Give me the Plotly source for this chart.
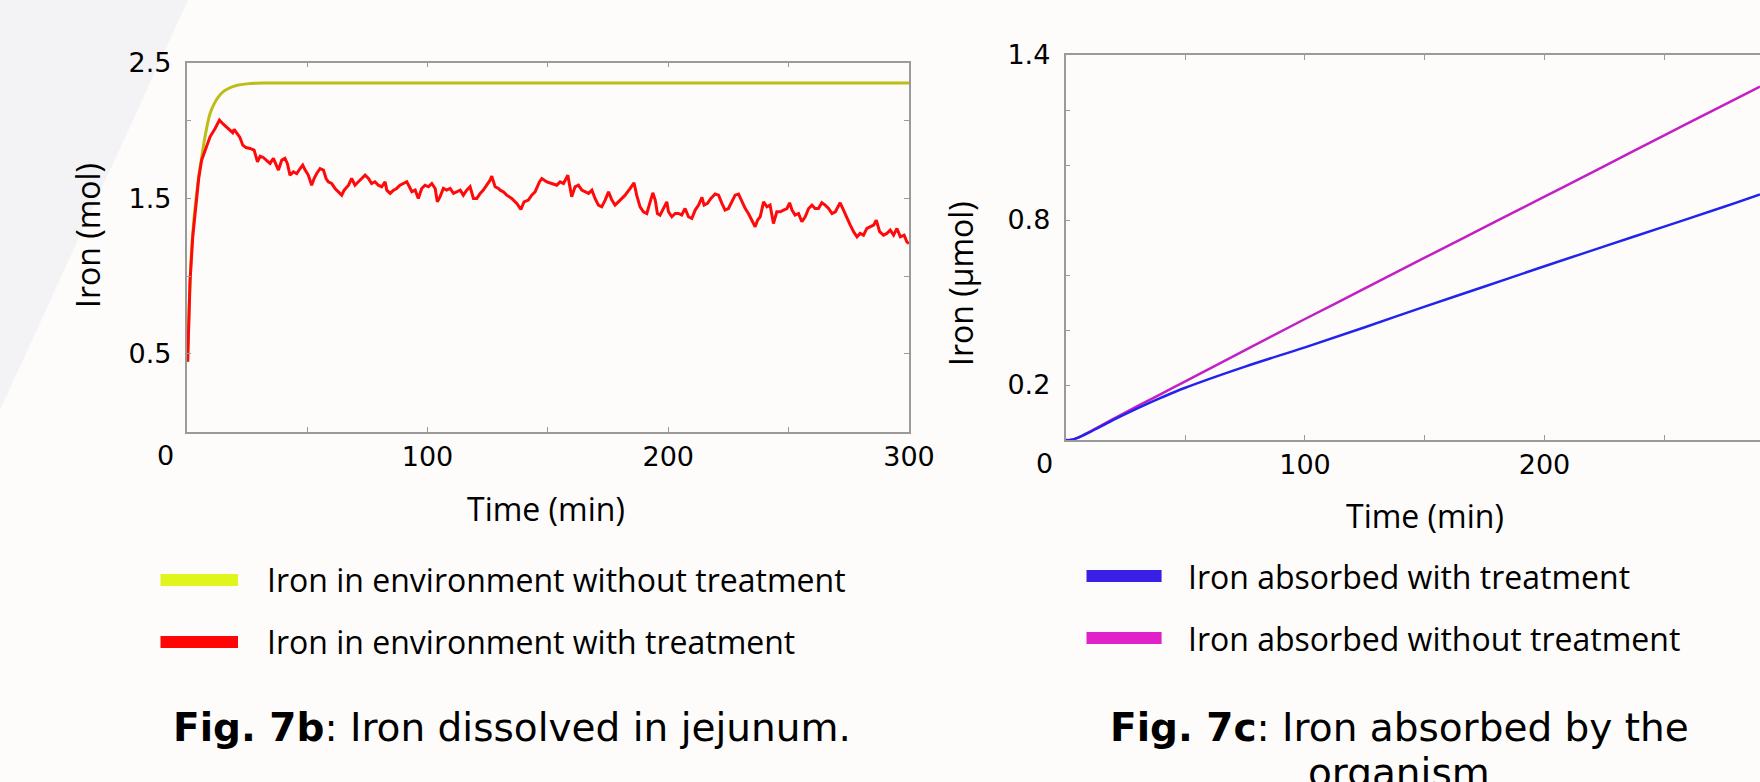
import plotly.graph_objects as go

# ---------------- data ----------------
# Fig. 7b : iron dissolved in jejunum
green_t = [0.4, 1.4, 2.5, 3.9, 5.0, 6.2, 7.6, 9.7, 11.5, 13.1, 15.2, 18.0, 21.0, 24.9, 29.0, 33.0,
           50, 100, 150, 200, 250, 300]
green_v = [0.45, 0.97, 1.27, 1.50, 1.64, 1.76, 1.895, 2.045, 2.11, 2.15, 2.185, 2.21, 2.226, 2.235, 2.239, 2.24,
           2.24, 2.24, 2.24, 2.24, 2.24, 2.24]

red_t = [0.4, 1.4, 2.5, 3.9, 5.0, 6.2, 8.0, 9.7, 11.8, 13.6, 15.2, 16.6, 18.0, 19.1, 19.7, 20.8, 22.1, 23.3,
         24.6, 26.3, 28.0, 29.4, 30.5, 31.8, 33.0, 34.6, 36.0, 37.1, 38.1, 39.5, 40.8, 41.8, 42.9, 44.3, 45.7,
         47.1, 48.2, 49.2, 50.5, 51.9, 52.9, 54.0, 55.4, 56.8, 57.9, 58.8, 60.2, 61.6, 63.0, 64.4, 65.4, 67.2,
         68.5, 69.9, 71.3, 72.7, 74.1, 75.5, 76.8, 78.2, 79.6, 81.0, 82.4, 83.1, 84.5, 85.9, 87.2, 88.6, 90.0,
         91.4, 92.5, 93.5, 94.9, 96.2, 97.6, 99.0, 100.4, 101.8, 103.2, 104.1, 105.2, 106.6, 108.0, 109.4,
         110.8, 112.2, 113.6, 114.9, 116.3, 117.7, 119.1, 120.5, 121.9, 123.2, 124.6, 126.0, 126.7, 128.1,
         129.5, 130.2, 131.6, 132.9, 135.0, 137.1, 138.8, 140.1, 141.9, 143.3, 144.7, 146.5, 147.5, 149.6,
         151.6, 153.7, 155.1, 156.5, 158.3, 159.2, 159.9, 161.3, 162.7, 164.1, 165.5, 166.9, 168.3, 169.6,
         171.0, 172.4, 173.8, 175.2, 176.6, 177.9, 179.3, 180.7, 182.1, 184.2, 185.8, 186.9, 188.3, 189.7,
         191.1, 192.5, 193.6, 194.6, 195.5, 196.6, 198.0, 199.4, 200.1, 201.5, 202.9, 204.3, 205.6, 207.0,
         208.4, 209.8, 211.2, 212.6, 214.0, 214.9, 216.3, 217.7, 219.5, 220.9, 222.3, 223.6, 225.0, 226.4,
         227.8, 229.2, 230.6, 232.0, 233.3, 234.7, 236.1, 237.1, 238.2, 239.6, 241.0, 242.3, 243.7, 245.1,
         246.5, 247.9, 249.3, 250.4, 251.4, 252.7, 254.1, 255.5, 256.9, 258.3, 259.7, 261.0, 262.4, 263.8,
         265.2, 266.6, 268.0, 269.4, 270.7, 271.4, 272.8, 274.2, 275.6, 277.0, 278.4, 279.7, 281.1, 282.5,
         283.9, 285.3, 286.4, 287.8, 289.4, 290.8, 292.2, 293.6, 295.0, 296.4, 298.0, 299.1, 300.0]
red_v = [0.45, 0.97, 1.25, 1.49, 1.63, 1.745, 1.83, 1.895, 1.948, 2.002, 1.976, 1.955, 1.938, 1.921, 1.942,
         1.917, 1.891, 1.841, 1.826, 1.820, 1.809, 1.734, 1.770, 1.762, 1.745, 1.724, 1.756, 1.713, 1.681,
         1.745, 1.756, 1.724, 1.649, 1.670, 1.659, 1.691, 1.713, 1.681, 1.649, 1.584, 1.627, 1.659, 1.691,
         1.681, 1.627, 1.606, 1.595, 1.563, 1.542, 1.520, 1.552, 1.584, 1.627, 1.584, 1.606, 1.627, 1.649,
         1.627, 1.595, 1.606, 1.584, 1.574, 1.606, 1.552, 1.531, 1.552, 1.563, 1.584, 1.595, 1.606, 1.574,
         1.542, 1.552, 1.499, 1.563, 1.584, 1.574, 1.595, 1.563, 1.477, 1.509, 1.563, 1.552, 1.563, 1.531,
         1.542, 1.552, 1.520, 1.552, 1.574, 1.499, 1.499, 1.531, 1.552, 1.584, 1.616, 1.642, 1.574, 1.563,
         1.552, 1.541, 1.520, 1.499, 1.467, 1.428, 1.477, 1.488, 1.520, 1.541, 1.605, 1.627, 1.605, 1.595,
         1.584, 1.605, 1.595, 1.648, 1.573, 1.509, 1.573, 1.584, 1.552, 1.541, 1.531, 1.552, 1.499, 1.456,
         1.445, 1.488, 1.541, 1.488, 1.456, 1.477, 1.499, 1.520, 1.563, 1.599, 1.520, 1.445, 1.413, 1.402,
         1.477, 1.535, 1.488, 1.402, 1.392, 1.434, 1.477, 1.413, 1.381, 1.402, 1.402, 1.392, 1.434, 1.381,
         1.370, 1.424, 1.456, 1.505, 1.456, 1.467, 1.499, 1.527, 1.520, 1.467, 1.424, 1.434, 1.477, 1.520,
         1.527, 1.477, 1.434, 1.402, 1.359, 1.317, 1.359, 1.381, 1.477, 1.445, 1.456, 1.338, 1.413, 1.413,
         1.424, 1.434, 1.471, 1.424, 1.392, 1.402, 1.349, 1.381, 1.434, 1.456, 1.434, 1.434, 1.471, 1.456,
         1.434, 1.402, 1.413, 1.456, 1.471, 1.424, 1.370, 1.327, 1.285, 1.252, 1.274, 1.263, 1.306, 1.317,
         1.327, 1.359, 1.285, 1.263, 1.274, 1.295, 1.263, 1.306, 1.252, 1.263, 1.220, 1.209]

# Fig. 7c : iron absorbed by the organism
abs_t = [0, 2, 5, 10, 15, 20, 30, 40, 50, 75, 100, 125, 150, 175, 200, 225, 250, 275, 290]
blue_v = [0, 0, 0.008, 0.028, 0.05, 0.073, 0.115, 0.154, 0.19, 0.267, 0.337, 0.41, 0.485, 0.558, 0.632,
          0.704, 0.776, 0.848, 0.893]
magenta_v = [0, 0, 0.008, 0.03, 0.053, 0.077, 0.123, 0.168, 0.213, 0.327, 0.44, 0.551, 0.663, 0.774, 0.885,
             0.996, 1.108, 1.219, 1.285]

x_ticks = [0, 50, 100, 150, 200, 250, 300]
x_ticktext = ["", "", "100", "", "200", "", "300"]
yb_top = 2.371
yb_ticks = [0.5, 1.0, 1.5, 2.0, 2.37]
yb_ticktext = ["0.5", "", "1.5", "", "2.5"]
yc_ticks = [0.2, 0.4, 0.6, 0.8, 1.0, 1.2, 1.4]
yc_ticktext = ["0.2", "", "", "0.8", "", "", "1.4"]

legend_b = ["Iron in environment without treatment", "Iron in environment with treatment"]
legend_c = ["Iron absorbed with treatment", "Iron absorbed without treatment"]

# ---------------- styling ----------------
W, H = 1760, 782
BG = "#fdfcfa"
AXC = "#9a9a9a"
TICKFONT = dict(family="DejaVu Sans", size=27, color="black")
LBLFONT = dict(family="Open Sans", size=32, color="black")
CAPFONT = dict(family="DejaVu Sans", size=39, color="black")

GREEN_LINE, RED_LINE = "#bcbd16", "#ff0a0a"
BLUE_LINE, MAG_LINE = "#2323ee", "#c21fc4"
GREEN_SW, RED_SW = "#dff51c", "#ff0505"
BLUE_SW, MAG_SW = "#3a1fe6", "#e020c8"


def px(x):
    return x / W


def py(y):
    return 1 - y / H


fig = go.Figure()
fig.add_trace(go.Scatter(x=green_t, y=green_v, mode="lines", line=dict(color=GREEN_LINE, width=3, shape="spline"),
                         name=legend_b[0], xaxis="x", yaxis="y", hoverinfo="skip"))
fig.add_trace(go.Scatter(x=red_t, y=red_v, mode="lines", line=dict(color=RED_LINE, width=3),
                         name=legend_b[1], xaxis="x", yaxis="y", hoverinfo="skip"))
fig.add_trace(go.Scatter(x=abs_t, y=magenta_v, mode="lines", line=dict(color=MAG_LINE, width=2.5, shape="spline"),
                         name=legend_c[1], xaxis="x2", yaxis="y2", hoverinfo="skip"))
fig.add_trace(go.Scatter(x=abs_t, y=blue_v, mode="lines", line=dict(color=BLUE_LINE, width=2.5, shape="spline"),
                         name=legend_c[0], xaxis="x2", yaxis="y2", hoverinfo="skip"))

common = dict(showgrid=False, zeroline=False, showline=True, linecolor=AXC, linewidth=1.5,
              ticks="inside", ticklen=5, tickwidth=1, tickcolor=AXC, tickfont=TICKFONT,
              automargin=False)

fig.update_layout(
    width=W, height=H, margin=dict(l=0, r=0, t=0, b=0, pad=0, autoexpand=False),
    paper_bgcolor=BG, plot_bgcolor=BG, showlegend=False,
    xaxis=dict(domain=[px(186.7), px(909)], range=[0, 300], tickvals=x_ticks, ticktext=x_ticktext,
               mirror="ticks", anchor="y", ticklabelstandoff=0, **common),
    yaxis=dict(domain=[py(431.7), py(62.7)], range=[0, yb_top], tickvals=yb_ticks, ticktext=yb_ticktext,
               mirror="ticks", anchor="x", ticklabelstandoff=8, **common),
    xaxis2=dict(domain=[px(1065.5), 1.0], range=[0, 290.0], tickvals=x_ticks, ticktext=x_ticktext,
                mirror="ticks", anchor="y2", ticklabelstandoff=0, **common),
    yaxis2=dict(domain=[py(440), py(55)], range=[0, 1.4], tickvals=yc_ticks, ticktext=yc_ticktext,
                mirror=False, anchor="x2", ticklabelstandoff=8, **common),
)

shapes = [
    dict(type="path", xref="paper", yref="paper", path=f"M 0,1 L {px(188)},1 L 0,{py(410)} Z",
         fillcolor="#f3f3f5", line=dict(width=0), layer="below"),
    dict(type="rect", xref="paper", yref="paper", x0=px(160.5), x1=px(238), y0=py(586), y1=py(574),
         fillcolor=GREEN_SW, line=dict(width=0)),
    dict(type="rect", xref="paper", yref="paper", x0=px(160.5), x1=px(238), y0=py(648), y1=py(636),
         fillcolor=RED_SW, line=dict(width=0)),
    dict(type="rect", xref="paper", yref="paper", x0=px(1086.5), x1=px(1161.6), y0=py(582), y1=py(570),
         fillcolor=BLUE_SW, line=dict(width=0)),
    dict(type="rect", xref="paper", yref="paper", x0=px(1086.5), x1=px(1161.6), y0=py(644), y1=py(632),
         fillcolor=MAG_SW, line=dict(width=0)),
]
fig.update_layout(shapes=shapes)


def ann(text, x, y, font, xanchor="center", yanchor="middle", angle=0):
    fig.add_annotation(text=text, x=px(x), y=py(y), xref="paper", yref="paper", showarrow=False,
                       xanchor=xanchor, yanchor=yanchor, font=font, textangle=angle)


# origin labels
ann("0", 165, 455, TICKFONT)
ann("0", 1044.6, 463, TICKFONT)
# axis titles
ann("Time (min)", 546, 508, LBLFONT)
ann("Time (min)", 1425, 515, LBLFONT)
ann("Iron (mol)", 88, 236, LBLFONT, angle=-90)
ann("Iron (μmol)", 960, 283, LBLFONT, angle=-90)
# legends
ann(legend_b[0], 265, 579, LBLFONT, xanchor="left")
ann(legend_b[1], 265, 641, LBLFONT, xanchor="left")
ann(legend_c[0], 1186, 576, LBLFONT, xanchor="left")
ann(legend_c[1], 1186, 638, LBLFONT, xanchor="left")
# captions
ann("<b>Fig. 7b</b>: Iron dissolved in jejunum.", 512, 727, CAPFONT)
ann("<b>Fig. 7c</b>: Iron absorbed by the", 1399, 727, CAPFONT)
ann("organism", 1399, 772, CAPFONT)

POST = ("var d=document.getElementById('{plot_id}');"
        "d.style.position='fixed';d.style.left='0px';d.style.top='0px';"
        "document.body.style.margin='0';document.body.style.overflow='hidden';"
        "document.documentElement.style.overflow='hidden';")

fig.write_html("out.html", config={"displayModeBar": False}, post_script=POST)
